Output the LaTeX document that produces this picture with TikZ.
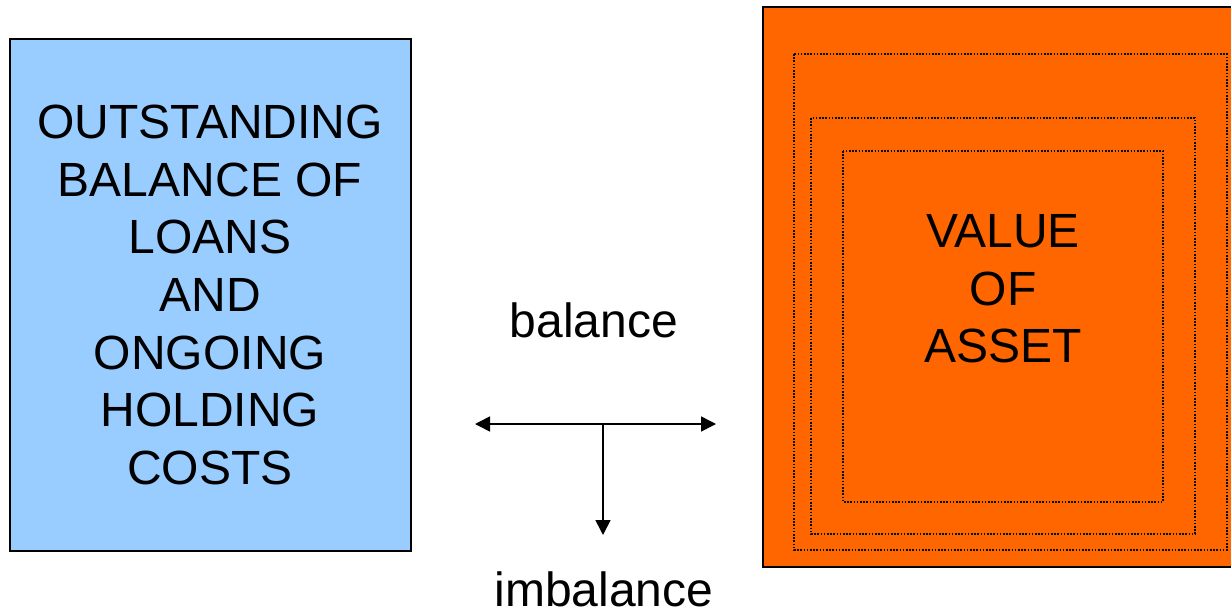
\documentclass[tikz,border=0pt]{standalone}
\usepackage{fontspec}
\setmainfont{Liberation Sans}
\usetikzlibrary{arrows.meta}
\definecolor{boxblue}{HTML}{99CCFF}
\definecolor{boxorange}{HTML}{FF6600}
\begin{document}
\begin{tikzpicture}[x=1pt,y=-1pt,
  bigtext/.style={font=\fontsize{48}{57.7}\selectfont, align=center, inner sep=0pt},
  dotbox/.style={draw=black, line width=1.7pt, dash pattern=on 1.6pt off 1.6pt},
  arr/.style={line width=1.6pt, -{Triangle[length=15pt,width=15pt]}}]
\useasboundingbox (0,0) rectangle (1231,610);
% left box
\draw[fill=boxblue, line width=2pt] (10,39) rectangle (411,551);
\node[bigtext] (liab) at (210,295) {OUTSTANDING\\BALANCE OF\hspace*{0.278em}\\LOANS\\AND\\ONGOING\\HOLDING\hspace*{0.278em}\\COSTS};
% right box
\draw[fill=boxorange, line width=2.5pt] (763,7) rectangle (1245,567);
\draw[dotbox] (794,54) rectangle (1227,550);
\draw[dotbox] (811,118) rectangle (1195,534);
\draw[dotbox] (843,151) rectangle (1163,502);
\node[bigtext] (asset) at (1003,289) {VALUE\\OF\\ASSET};
% labels
\node[bigtext] (bal) at (594,320) {balance};
\node[bigtext] (imbal) at (604,589) {imbalance};
% arrows
\coordinate (L) at (475,424);
\coordinate (R) at (716,424);
\coordinate (M) at (603,424);
\coordinate (D) at (603,535);
\draw[arr] (M) -- (L);
\draw[arr] (M) -- (R);
\draw[arr] (M) -- (D);
\end{tikzpicture}
\end{document}
